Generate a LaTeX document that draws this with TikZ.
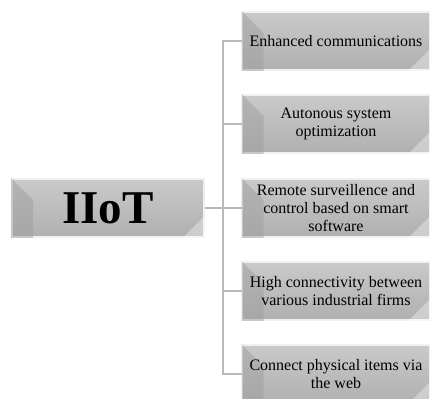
\documentclass[tikz,border=0pt]{standalone}
\usepackage{fontspec}
\setmainfont{Liberation Serif}

\tikzset{
  bevel/.style={minimum width=187pt, minimum height=58pt, inner sep=0pt,
    draw=gray!12, line width=1.6pt, top color=gray!42, bottom color=gray!62},
  rootbox/.style={bevel, minimum width=192pt},
  label/.style={align=center, font=\fontsize{16}{18.4}\selectfont},
  link/.style={draw=gray!55, line width=1.4pt}
}
% shading facets of the bevelled boxes
\newcommand{\facets}[1]{
  \fill[gray!75, opacity=0.5] (#1.north west) -- ++(22pt,-22pt) -- ([xshift=22pt]#1.south west) -- (#1.south west) -- cycle;
  \fill[white, opacity=0.35] (#1.south east) -- ++(0,22pt) -- ++(-22pt,-22pt) -- cycle;
}

\begin{document}
\begin{tikzpicture}[x=1pt, y=-1pt]
  \useasboundingbox (0,0) rectangle (432,399);

  \node[rootbox] (iiot) at (108, 208) {};
  \facets{iiot}
  \node at (iiot) [font=\fontsize{47}{50}\selectfont\bfseries] {IIoT};

  \node[bevel] (comm) at (336, 41) {};
  \node[bevel] (optim) at (336, 124) {};
  \node[bevel] (remote) at (336, 208) {};
  \node[bevel] (conn) at (336, 291) {};
  \node[bevel] (web) at (336, 374) {};
  \foreach \n in {comm, optim, remote, conn, web} {\facets{\n}}

  \node[label] at (comm) {Enhanced communications};
  \node[label] at (optim) {Autonous system\\optimization};
  \node[label] at (remote) {Remote surveillence and\\control based on smart\\software};
  \node[label] at (conn) {High connectivity between\\various industrial firms};
  \node[label] at (web) {Connect physical items via\\the web};

  \coordinate (trunk) at (223, 208);
  \draw[link] (iiot.east) -- (trunk);
  \draw[link] (comm.west) -| (trunk) |- (web.west);
  \draw[link] (trunk |- optim.west) -- (optim.west);
  \draw[link] (trunk) -- (remote.west);
  \draw[link] (trunk |- conn.west) -- (conn.west);
\end{tikzpicture}
\end{document}
